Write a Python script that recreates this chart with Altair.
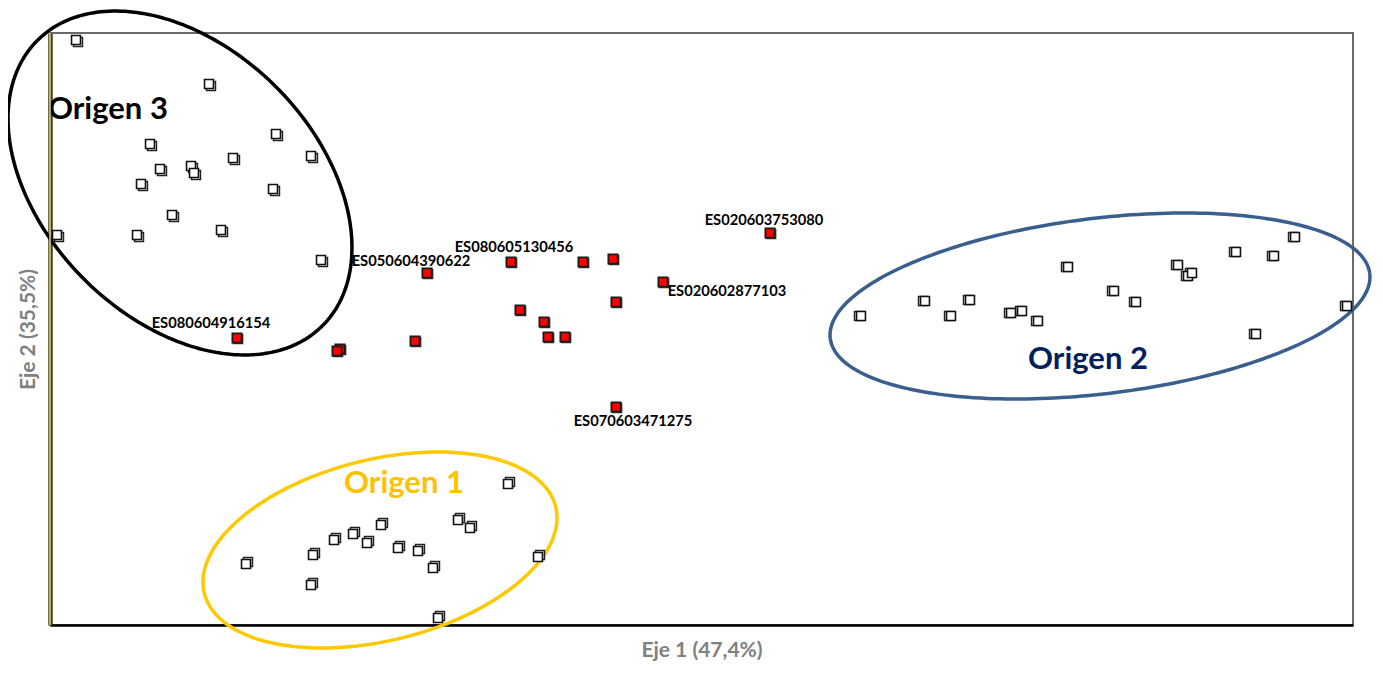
import altair as alt
import numpy as np
import pandas as pd

# ---- data (axis units) ----
X_MAX = 130.3
Y_MAX = 59.2

# Origen 3 samples
g3_x = [2.6, 15.9, 22.6, 10.0, 18.3, 26.1, 11.0, 14.1, 14.4, 9.1, 22.3, 12.2, 17.1, 0.7, 8.7, 27.1]
g3_y = [58.5, 54.1, 49.1, 48.1, 46.7, 46.9, 45.6, 45.9, 45.2, 44.1, 43.6, 41.0, 39.5, 39.0, 39.0, 36.5]

# Origen 2 samples
g2_x = [81.1, 87.5, 90.1, 92.0, 96.1, 97.2, 98.8, 101.8, 106.4, 108.6, 112.8, 113.8, 114.2, 118.6, 122.4, 124.5, 120.6, 129.7]
g2_y = [30.9, 32.4, 30.9, 32.5, 31.2, 31.4, 30.4, 35.8, 33.4, 32.3, 36.0, 34.9, 35.2, 37.3, 36.9, 38.8, 29.1, 31.9]

# Origen 1 samples
g1_x = [19.6, 26.3, 28.4, 30.3, 31.7, 33.1, 26.1, 45.8, 40.8, 42.0, 34.8, 36.8, 38.3, 48.8, 38.8]
g1_y = [6.1, 7.0, 8.5, 9.1, 8.2, 10.0, 4.0, 14.1, 10.5, 9.7, 7.7, 7.4, 5.7, 6.8, 0.7]

# Unknown samples (red)
red_x = [18.7, 37.7, 46.1, 53.3, 56.3, 72.0, 61.3, 56.6, 47.0, 49.4, 49.8, 51.5, 36.5, 29.0, 28.7, 56.6]
red_y = [28.7, 35.2, 36.3, 36.3, 36.6, 39.2, 34.3, 32.3, 31.5, 30.3, 28.8, 28.8, 28.4, 27.6, 27.4, 21.8]
red_label = ["ES080604916154", "ES050604390622", "ES080605130456", "", "", "ES020603753080",
             "ES020602877103", "", "", "", "", "", "", "", "", "ES070603471275"]

# Cluster ellipses (centre, semi-axes, rotation in degrees)
ell_name = ["Origen 1", "Origen 2", "Origen 3"]
ell_cx = [33.0, 105.0, 13.0]
ell_cy = [7.5, 31.9, 44.2]
ell_a = [18.09, 27.17, 20.17]
ell_b = [9.06, 8.78, 13.59]
ell_ang = [13.8, 6.85, -45.0]
ell_color = ["#FFC800", "#3A5F8E", "#000000"]

# Cluster titles
clu_name = ["Origen 1", "Origen 2", "Origen 3"]
clu_x = [35.4, 103.8, -0.2]
clu_y = [14.1, 26.5, 51.5]
clu_color = ["#FFC000", "#002060", "#000000"]
clu_align = ["center", "center", "left"]

# ---- tables ----
pts = pd.concat([
    pd.DataFrame({"x": g1_x, "y": g1_y, "grp": "o1"}),
    pd.DataFrame({"x": g2_x, "y": g2_y, "grp": "o2"}),
    pd.DataFrame({"x": g3_x, "y": g3_y, "grp": "o3"}),
], ignore_index=True)
red = pd.DataFrame({"x": red_x, "y": red_y, "label": red_label})

rows = []
t = np.linspace(0, 2 * np.pi, 241)
for n, cx, cy, a, b, ang in zip(ell_name, ell_cx, ell_cy, ell_a, ell_b, ell_ang):
    th = np.deg2rad(ang)
    ex = cx + a * np.cos(t) * np.cos(th) - b * np.sin(t) * np.sin(th)
    ey = cy + a * np.cos(t) * np.sin(th) + b * np.sin(t) * np.cos(th)
    for i, (u, v) in enumerate(zip(ex, ey)):
        rows.append({"x": u, "y": v, "grp": n, "i": i})
ell = pd.DataFrame(rows)

X = alt.X("x:Q", scale=alt.Scale(domain=[0, X_MAX], nice=False, zero=False),
          axis=alt.Axis(title="Eje 1 (47,4%)", labels=False, ticks=False, grid=False,
                        domainColor="#000000", domainWidth=2.5,
                        titleColor="#808080", titleFontSize=21, titleFont="Lato",
                        titleFontWeight="bold", titlePadding=14))
Y = alt.Y("y:Q", scale=alt.Scale(domain=[0, Y_MAX], nice=False, zero=False),
          axis=alt.Axis(title="Eje 2 (35,5%)", labels=False, ticks=False, grid=False,
                        domainColor="#3f3f1c", domainWidth=4.5,
                        titleColor="#808080", titleFontSize=21, titleFont="Lato",
                        titleFontWeight="bold", titlePadding=12))

ellipses = alt.Chart(ell).mark_line(strokeWidth=3.5, clip=False).encode(
    x=X, y=Y,
    color=alt.Color("grp:N", scale=alt.Scale(domain=ell_name, range=ell_color), legend=None),
    detail="grp:N",
    order="i:Q",
)

yellow_rule = alt.Chart(pd.DataFrame({"x": [0]})).mark_rule(
    color="#d8cf72", strokeWidth=1.6).encode(
    x=X, y=alt.datum(0), y2=alt.datum(Y_MAX))

offsets = {"o1": (2, -2), "o2": (-2, 0), "o3": (2, 2)}
shadows = []
for g, (dx, dy) in offsets.items():
    shadows.append(
        alt.Chart(pts[pts.grp == g]).mark_point(
            shape="square", filled=True, fill="white", stroke="#222222",
            strokeWidth=1.5, size=80, opacity=1, xOffset=dx, yOffset=dy).encode(x=X, y=Y)
    )

white_pts = alt.Chart(pts).mark_point(
    shape="square", filled=True, fill="white", stroke="#111111",
    strokeWidth=1.6, size=80, opacity=1).encode(x=X, y=Y)

red_shadow = alt.Chart(red).mark_point(
    shape="square", filled=True, fill="#333333", stroke="#333333",
    strokeWidth=1.5, size=85, opacity=1, xOffset=1, yOffset=1).encode(x=X, y=Y)
red_pts = alt.Chart(red).mark_point(
    shape="square", filled=True, fill="#FF0000", stroke="#1a1a1a",
    strokeWidth=1.8, size=85, opacity=1).encode(x=X, y=Y)

label_offsets = {
    "ES080604916154": (-26, -14),
    "ES050604390622": (-16, -11),
    "ES080605130456": (3, -14),
    "ES020603753080": (-6, -12),
    "ES020602877103": (64, 10),
    "ES070603471275": (17, 15),
}
labels = []
for lab, (dx, dy) in label_offsets.items():
    labels.append(
        alt.Chart(red[red.label == lab]).mark_text(
            font="Lato", fontWeight="bold", fontSize=14.7, color="#000000",
            align="center", baseline="middle", dx=dx, dy=dy).encode(x=X, y=Y, text="label:N")
    )

clu = pd.DataFrame({"x": clu_x, "y": clu_y, "name": clu_name})
clu_layers = []
for n, c, al in zip(clu_name, clu_color, clu_align):
    clu_layers.append(
        alt.Chart(clu[clu.name == n]).mark_text(
            font="Lato", fontWeight="bold", fontSize=31, color=c, align=al,
            baseline="middle").encode(x=X, y=Y, text="name:N")
    )

chart = alt.layer(
    ellipses, *shadows, white_pts, red_shadow, red_pts, *labels, *clu_layers, yellow_rule
).properties(
    width=1303, height=592,
    autosize=alt.AutoSizeParams(type="none"),
    padding={"left": 42, "top": 25, "right": 22, "bottom": 40},
    background="white",
).configure_view(stroke="#3a3a3a", strokeWidth=1.5)

chart.save("out.html", embed_options={"renderer": "svg", "actions": False})
